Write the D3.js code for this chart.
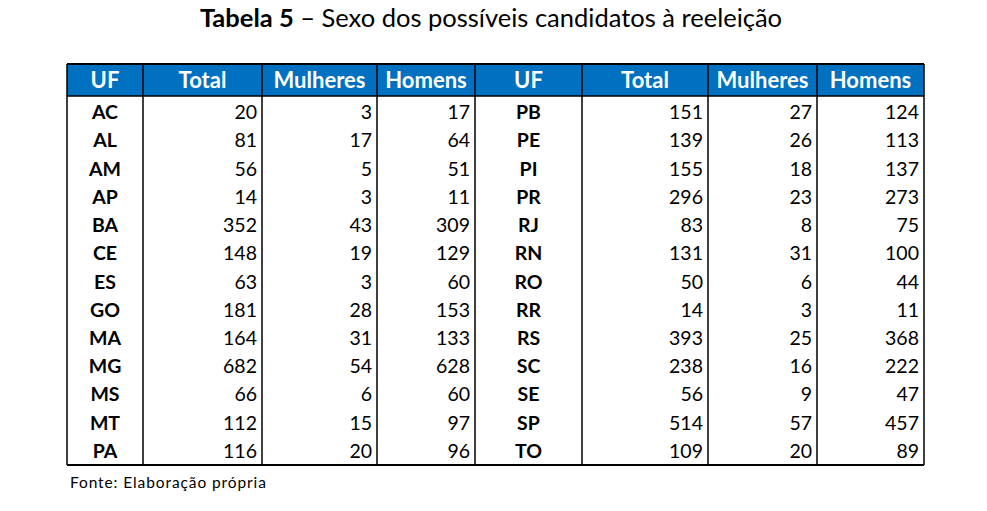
<!DOCTYPE html>
<html><head><meta charset="utf-8">
<script src="https://cdn.jsdelivr.net/npm/d3@7"></script>
<style>body{margin:0;background:#fff}</style></head>
<body><svg id="c" width="987" height="511"></svg>
<script>
const headers = ["UF","Total","Mulheres","Homens","UF","Total","Mulheres","Homens"];
const ufLeft = ["AC","AL","AM","AP","BA","CE","ES","GO","MA","MG","MS","MT","PA"];
const totalLeft = [20,81,56,14,352,148,63,181,164,682,66,112,116];
const mulheresLeft = [3,17,5,3,43,19,3,28,31,54,6,15,20];
const homensLeft = [17,64,51,11,309,129,60,153,133,628,60,97,96];
const ufRight = ["PB","PE","PI","PR","RJ","RN","RO","RR","RS","SC","SE","SP","TO"];
const totalRight = [151,139,155,296,83,131,50,14,393,238,56,514,109];
const mulheresRight = [27,26,18,23,8,31,6,3,25,16,9,57,20];
const homensRight = [124,113,137,273,75,100,44,11,368,222,47,457,89];

const colW = [76,119,115,98,107,126,109,107];
const x0 = 67, yHead = 64, yBody = 96, yEnd = 465;
const edges = [x0]; colW.forEach(w=>edges.push(edges[edges.length-1]+w));
const cols = [ufLeft,totalLeft,mulheresLeft,homensLeft,ufRight,totalRight,mulheresRight,homensRight];
const svg = d3.select("#c");
const font = "Lato, 'Open Sans', sans-serif";

const title = svg.append("text").attr("x",491).attr("y",27).attr("text-anchor","middle")
  .attr("font-family",font).attr("font-size",25.5).attr("fill","#000");
title.append("tspan").attr("font-weight","bold").text("Tabela 5");
title.append("tspan").text(" – Sexo dos possíveis candidatos à reeleição");

const y = d3.scaleBand().domain(d3.range(ufLeft.length)).range([yBody+2,yEnd]);

svg.append("rect").attr("x",x0).attr("y",yHead).attr("width",edges[8]-x0).attr("height",yBody-yHead).attr("fill","#0070C0");
headers.forEach((h,i)=>{
  svg.append("text").attr("x",(edges[i]+edges[i+1])/2).attr("y",(yHead+yBody)/2+8)
    .attr("text-anchor","middle").attr("font-family",font).attr("font-weight","bold")
    .attr("font-size",22).attr("fill","#fff").text(h);
});
cols.forEach((col,i)=>{
  const isUF = i%4===0;
  svg.selectAll(null).data(col).enter().append("text")
    .attr("x", isUF ? (edges[i]+edges[i+1])/2 : edges[i+1]-5)
    .attr("y",(d,j)=>y(j)+y.bandwidth()/2+7)
    .attr("text-anchor", isUF?"middle":"end")
    .attr("font-family",font).attr("font-weight",isUF?"bold":"normal")
    .attr("font-size",19.5).attr("fill","#000").text(d=>d);
});
edges.forEach(e=>svg.append("line").attr("x1",e).attr("x2",e).attr("y1",yHead).attr("y2",yEnd).attr("stroke","#000").attr("stroke-width",1.5));
[yHead,yBody,yEnd].forEach(v=>svg.append("line").attr("x1",x0).attr("x2",edges[8]).attr("y1",v).attr("y2",v).attr("stroke","#000").attr("stroke-width",v===yBody?1.5:2));
svg.append("text").attr("x",70).attr("y",488).attr("font-family",font).attr("font-size",15.5).attr("letter-spacing",0.9).text("Fonte: Elaboração própria");
</script></body></html>
